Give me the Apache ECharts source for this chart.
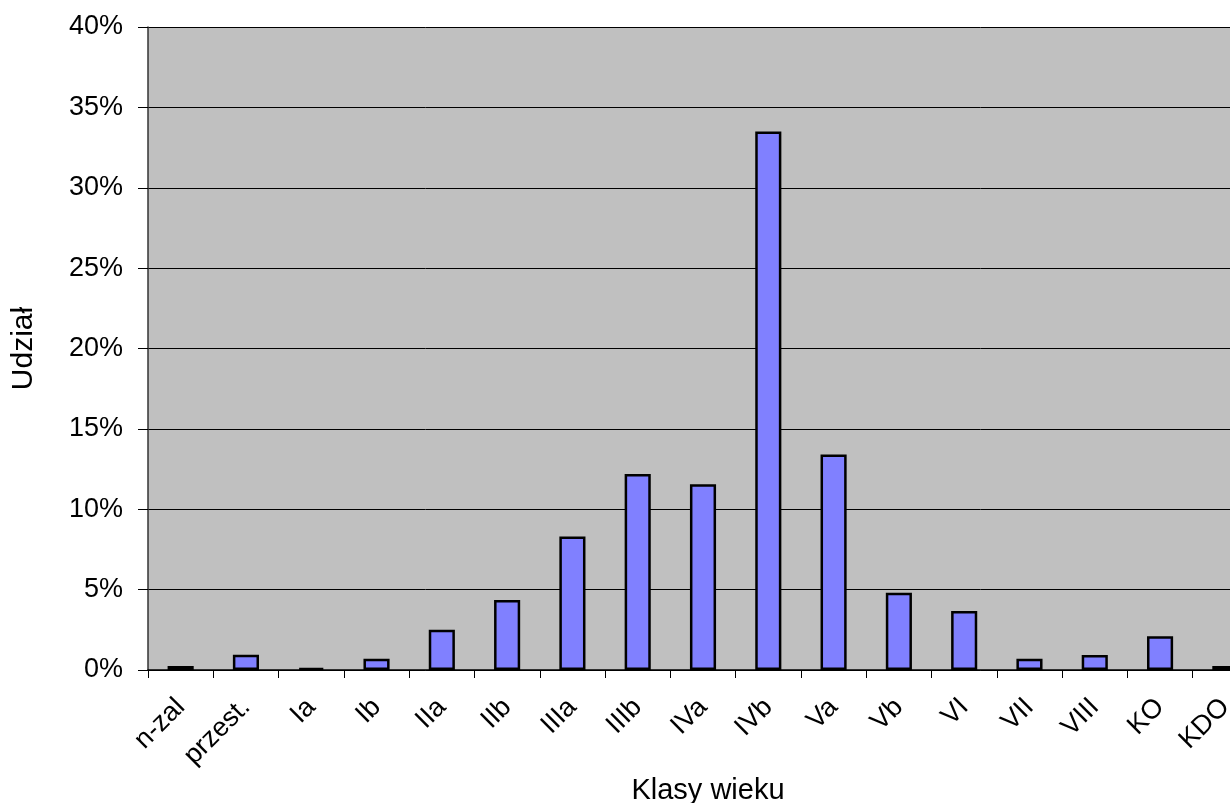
<!DOCTYPE html>
<html><head><meta charset="utf-8">
<script src="https://cdn.jsdelivr.net/npm/echarts@6/dist/echarts.min.js"></script>
<style>html,body{margin:0;padding:0;overflow:hidden;background:#fff;width:1230px;height:803px}#c{width:1260px;height:803px}</style>
</head><body><div id="c"></div>
<script>
const categories = ["n-zal","przest.","Ia","Ib","IIa","IIb","IIIa","IIIb","IVa","IVb","Va","Vb","VI","VII","VIII","KO","KDO"];
const values = [0.25,0.95,0.12,0.7,2.5,4.35,8.3,12.2,11.55,33.5,13.4,4.8,3.67,0.7,0.93,2.1,0.25];
const yTicks = {min:0, max:40, interval:5};
const chart = echarts.init(document.getElementById('c'), null, {renderer:'canvas'});
const font = 'Liberation Sans, Arial, sans-serif';
chart.setOption({
  animation:false,
  grid:{left:148, top:27, right:2, bottom:133, show:true, backgroundColor:'#C0C0C0', borderWidth:0,
        containLabel:false, outerBoundsMode:'none'},
  xAxis:{type:'category', data:categories, boundaryGap:true,
    name:'Klasy wieku', nameLocation:'middle', nameGap:100,
    nameTextStyle:{fontFamily:font, fontSize:29, color:'#000', padding:[0,0,0,10]},
    axisLine:{lineStyle:{color:'#000', width:1.5}},
    axisTick:{show:true, alignWithLabel:false, length:8, lineStyle:{color:'#000'}},
    axisLabel:{rotate:45, fontFamily:font, fontSize:27, color:'#000', margin:33, interval:0}},
  yAxis:{type:'value', min:yTicks.min, max:yTicks.max, interval:yTicks.interval,
    name:'Udział', nameLocation:'middle', nameGap:109, nameRotate:90,
    nameTextStyle:{fontFamily:font, fontSize:30, color:'#000'},
    axisLine:{show:true, lineStyle:{color:'#333', width:1.5}},
    axisTick:{show:true, length:10, lineStyle:{color:'#000'}},
    axisLabel:{formatter:'{value}%', fontFamily:font, fontSize:27, color:'#000', margin:25},
    splitLine:{show:true, lineStyle:{color:'#000', width:1}}},
  series:[{type:'bar', data:values, barWidth:'40%',
    itemStyle:{color:'#8080FF', borderColor:'#000', borderWidth:2.5}}]
});
</script></body></html>
